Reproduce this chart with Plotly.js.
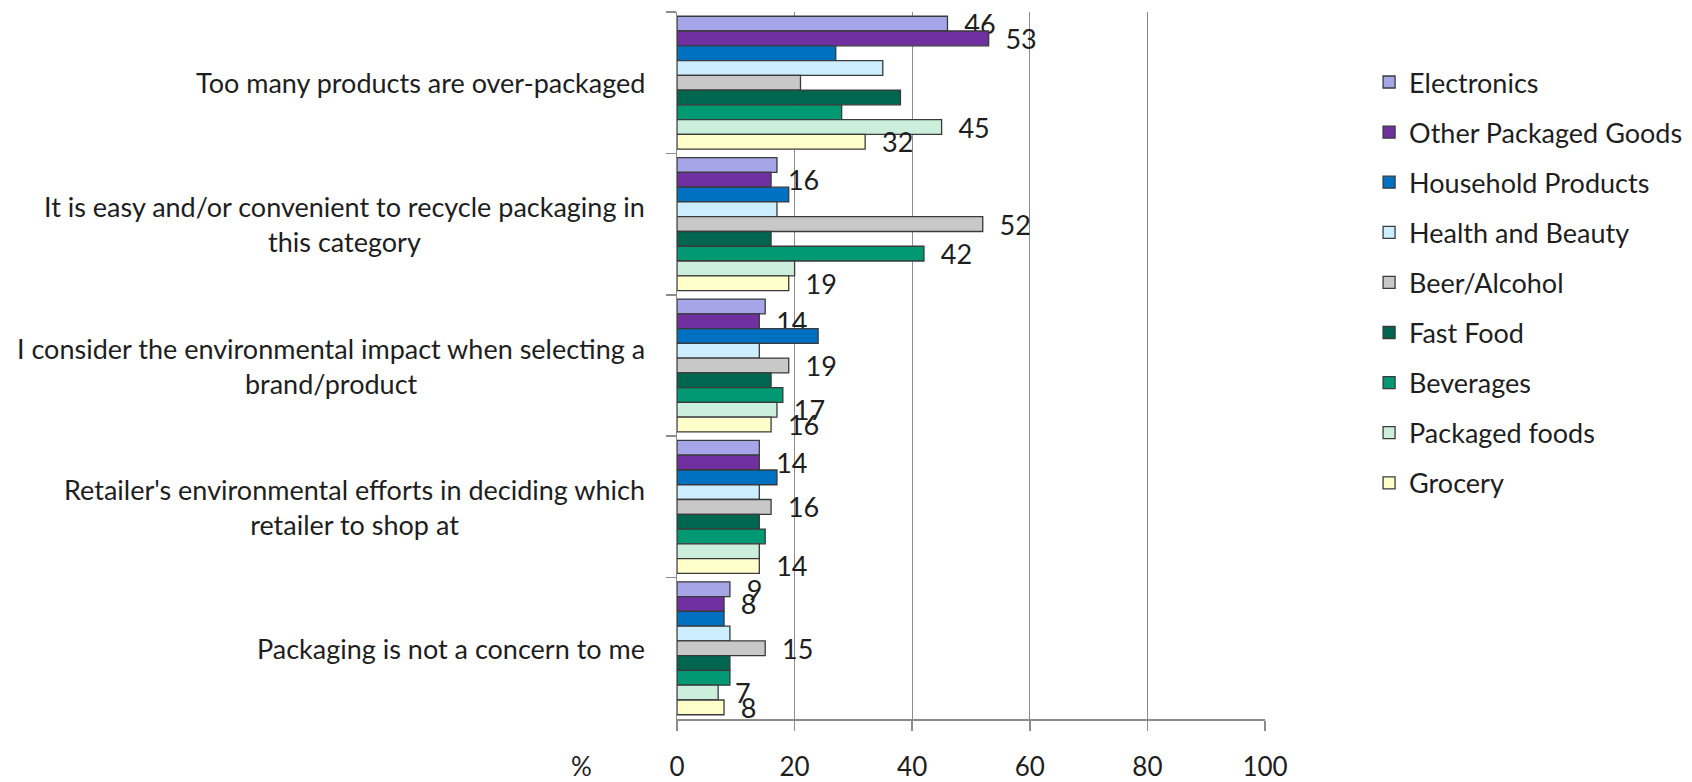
<!DOCTYPE html>
<html>
<head>
<meta charset="utf-8">
<script src="https://cdn.plot.ly/plotly-3.0.1.min.js"></script>
<style>html,body{margin:0;padding:0;background:#fff;}#chart{width:1692px;height:782px;}</style>
</head>
<body>
<div id="chart"></div>
<script>
// Categories (top to bottom) and their displayed label text
const categories = [
  "Too many products are over-packaged",
  "It is easy and/or convenient to recycle packaging in this category",
  "I consider the environmental impact when selecting a brand/product",
  "Retailer's environmental efforts in deciding which retailer to shop at",
  "Packaging is not a concern to me"
];
const categoryLabels = [
  "Too many products are over-packaged",
  "It is easy and/or convenient to recycle packaging in<br>this category",
  "I consider the environmental impact when selecting a<br>brand/product",
  "Retailer's environmental efforts in deciding which<br>retailer to shop at",
  "Packaging is not a concern to me"
];

const seriesNames = ["Electronics","Other Packaged Goods","Household Products","Health and Beauty","Beer/Alcohol","Fast Food","Beverages","Packaged foods","Grocery"];

// Values (%) per series, in category order
const electronics   = [46, 17, 15, 14, 9];
const otherPackaged = [53, 16, 14, 14, 8];
const household     = [27, 19, 24, 17, 8];
const healthBeauty  = [35, 17, 14, 14, 9];
const beerAlcohol   = [21, 52, 19, 16, 15];
const fastFood      = [38, 16, 16, 14, 9];
const beverages     = [28, 42, 18, 15, 9];
const packagedFoods = [45, 20, 17, 14, 7];
const grocery       = [32, 19, 16, 14, 8];

// Which data labels are visible in the original
const electronicsShow   = [1,0,0,0,1];
const otherPackagedShow = [1,1,1,1,1];
const householdShow     = [0,0,0,0,0];
const healthBeautyShow  = [0,0,0,0,0];
const beerAlcoholShow   = [0,1,1,1,1];
const fastFoodShow      = [0,0,0,0,0];
const beveragesShow     = [0,1,0,0,0];
const packagedFoodsShow = [1,0,1,0,1];
const groceryShow       = [1,1,1,1,1];

const xTickVals = [0, 20, 40, 60, 80, 100];
const xAxisUnit = "%";

const seriesValues = [electronics, otherPackaged, household, healthBeauty, beerAlcohol, fastFood, beverages, packagedFoods, grocery];
const seriesShow = [electronicsShow, otherPackagedShow, householdShow, healthBeautyShow, beerAlcoholShow, fastFoodShow, beveragesShow, packagedFoodsShow, groceryShow];

// Styles
const colors = ["#a5a5e8","#7030a0","#0070c0","#cdeeff","#c8c8c8","#006650","#009973","#cceedd","#ffffcc"];
const FONT = "Lato, 'Open Sans', sans-serif";
const TXT = "#1e1e1e";

const traces = seriesNames.map((name, i) => ({
  type: "bar",
  orientation: "h",
  name: name,
  legendgroup: "g" + i,
  y: categories,
  x: seriesValues[i],
  text: seriesValues[i].map((v, j) => seriesShow[i][j] ? "\u00a0\u00a0" + v : ""),
  textposition: "outside",
  constraintext: "none",
  cliponaxis: false,
  textfont: {family: FONT, size: 27, color: TXT},
  marker: {color: colors[i], line: {color: "#3a3a3a", width: 1.3}},
  hoverinfo: "x+name"
}));

const annotations = categories.map((c, i) => ({
  xref: "paper", yref: "y",
  x: -0.051, y: c,
  xanchor: "right", yanchor: "middle",
  align: "center",
  text: categoryLabels[i],
  showarrow: false,
  font: {family: FONT, size: 27, color: TXT}
}));
annotations.push({
  xref: "paper", yref: "paper",
  x: -0.1616, y: -0.066,
  xanchor: "center", yanchor: "middle",
  text: xAxisUnit, showarrow: false,
  font: {family: FONT, size: 26, color: TXT}
});

const layout = {
  width: 1692, height: 782,
  paper_bgcolor: "#ffffff", plot_bgcolor: "rgba(0,0,0,0)",
  margin: {l: 677, r: 427, t: 12, b: 63, pad: 0, autoexpand: false},
  barmode: "group",
  bargap: 0.06, bargroupgap: 0,
  font: {family: FONT, size: 27, color: TXT},
  xaxis: {
    range: [0, 100], tickvals: xTickVals, ticktext: xTickVals.map(String),
    showgrid: true, gridcolor: "#8c8c8c", gridwidth: 1.2,
    showline: true, linecolor: "#8c8c8c", linewidth: 1.5,
    zeroline: false,
    ticks: "outside", ticklen: 10, tickcolor: "#8c8c8c", tickwidth: 1.5,
    ticklabelstandoff: 14,
    tickfont: {family: FONT, size: 26, color: TXT},
    fixedrange: true
  },
  yaxis: {
    type: "category", autorange: "reversed",
    showticklabels: false, showgrid: false,
    showline: true, linecolor: "#8c8c8c", linewidth: 1.5,
    ticks: "outside", tickson: "boundaries", ticklen: 10, tickcolor: "#8c8c8c", tickwidth: 1.5,
    zeroline: false, fixedrange: true
  },
  legend: {
    x: 1.177, xanchor: "left", y: 0.935, yanchor: "top",
    orientation: "v", traceorder: "grouped",
    tracegroupgap: 12,
    font: {family: FONT, size: 27, color: TXT},
    bgcolor: "rgba(0,0,0,0)", borderwidth: 0
  },
  showlegend: true,
  annotations: annotations
};

Plotly.newPlot("chart", traces, layout, {displayModeBar: false, staticPlot: true});
</script>
</body>
</html>
